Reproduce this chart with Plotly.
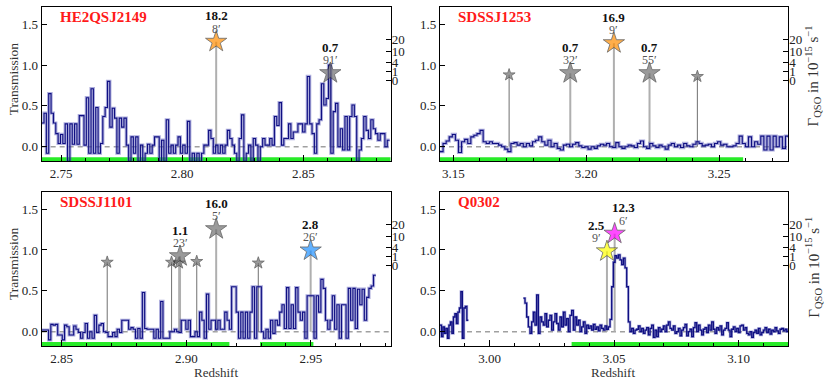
import numpy as np
import plotly.graph_objects as go

# ---- transmission spectra: step value per redshift bin ----
he2_z0, he2_dz = 2.742, 0.00097
he2_trans = [
    0.29, 0.41, -0.08, 0.65, 0.41, 0.29, 0.16, 0.04, 0.15, 0.04,
    0.28, -0.18, 0.28, 0.03, 0.28, 0.03, 0.38, 0.38, 0.02, 0.60,
    -0.08, 0.71, -0.08, 0.48, -0.08, 0.04, 0.37, 0.48, 0.80, 0.24,
    0.47, 0.35, -0.08, 0.35, 0.24, 0.35, 0.02, -0.18, 0.12, -0.08,
    0.12, -0.18, 0.02, -0.18, -0.08, 0.03, -0.08, 0.02, 0.12, 0.12,
    -0.18, 0.08, -0.18, 0.33, -0.08, 0.02, -0.08, 0.02, 0.12, -0.08,
    0.02, -0.08, 0.31, -0.18, -0.08, -0.18, -0.08, -0.18, -0.08, 0.02,
    0.02, 0.20, 0.10, -0.08, 0.02, -0.08,
    0.02, -0.08, 0.02, 0.20, 0.10, 0.02, -0.08, -0.18, 0.10, 0.39,
    -0.18, -0.08, 0.02, -0.18, 0.10, 0.02, -0.18, 0.00, 0.10, 0.02,
    0.02, 0.10, 0.02, 0.37, 0.26, 0.54, 0.02, 0.10, 0.10, 0.28,
    0.10, 0.18, 0.18, 0.28, 0.28, 0.18, 0.28, 0.86, 0.28, 0.16,
    -0.08, 0.28, 0.33, 0.77, 0.51, 0.59, 1.00, -0.08, 0.43, 0.53,
    0.00, 0.22, -0.04, 0.37, -0.04, 0.37, 0.51, 0.37, -0.18, -0.04,
    0.10, 0.37, 0.20, 0.10, 0.33, 0.22, 0.16, 0.08, 0.16, 0.16,
    0.00, 0.08,
]

s1253_z0, s1253_dz = 3.145, 0.00116
s1253_trans = [
    -0.06, 0.04, 0.07, 0.12, 0.15, 0.08, -0.07, 0.06, 0.09, 0.04,
    0.12, 0.14, 0.16, 0.20, 0.06, 0.04, 0.06, 0.04, 0.04, 0.02,
    0.00, -0.03, -0.06, 0.04, 0.05, 0.02, 0.04, 0.00, 0.04, 0.01,
    0.06, 0.08, 0.12, 0.06, 0.02, 0.08, 0.00, 0.04, -0.02, -0.04,
    0.02, 0.03, 0.00, 0.03, 0.05, 0.01, -0.01, 0.00, -0.03, 0.00,
    -0.02, 0.01, 0.03, 0.02, 0.04, 0.00, -0.01, 0.05, 0.00, -0.02,
    0.00, 0.02, 0.01, -0.01, 0.04, 0.07, 0.00, -0.02, 0.04, 0.01,
    -0.01, 0.02, 0.00, -0.03, 0.02, 0.04, 0.00, 0.02, -0.01, 0.04,
    0.01, 0.00, 0.03, 0.06, 0.04, 0.01, 0.02, 0.03, 0.00, 0.04,
    0.06, 0.02, 0.03, 0.00, 0.00, 0.01, 0.04, 0.13, 0.04, 0.00,
    0.12, 0.00, 0.06, 0.03, 0.13, -0.04, 0.13, -0.04, 0.13, 0.00,
    0.12, -0.02, 0.13,
]

s1101_z0, s1101_dz = 2.842, 0.000918
s1101_trans = [
    0.02, 0.02, 0.02, -0.10, 0.09, 0.08, 0.09, -0.04, -0.04, -0.10,
    0.08, 0.06, -0.04, -0.04, 0.07, 0.03, -0.01, -0.08, -0.01, 0.10,
    -0.08, 0.00, -0.08, 0.20, -0.01, 0.08, 0.10, 0.00, -0.01, -0.06,
    -0.06, -0.01, -0.06, 0.03, -0.01, 0.14, 0.14, 0.14, 0.03, 0.05,
    0.03, -0.08, 0.04, -0.08, 0.48, 0.04, 0.03, 0.03, 0.03, -0.08,
    0.03, -0.08, 0.37, -0.08, -0.08, -0.08, 0.00, 0.00, 0.03, 0.00,
    -0.01, 0.14, 0.14, 0.03, 0.14, -0.06, -0.06, 0.00, -0.06, 0.24,
    0.14, -0.08, 0.46, 0.03, 0.14, 0.14, 0.03,
    0.14, 0.03, 0.03, 0.24, 0.14, 0.03, 0.55, 0.55, 0.24, -0.08,
    0.24, -0.08, 0.24, -0.08, 0.24, 0.55, -0.08, 0.55, 0.55, 0.00,
    -0.08, 0.03, -0.08, 0.14, -0.02, 0.14, 0.08, 0.24, 0.33, 0.04,
    0.54, 0.04, 0.33, 0.04, 0.54, 0.24, 0.14, 0.24, -0.08, 0.44,
    0.44, 0.44, -0.08, 0.44, 0.24, 0.64, 0.53, 0.14, 0.03, 0.14,
    0.44, 0.03, 0.33, -0.08, 0.33, 0.33, -0.08, 0.53, 0.14, 0.53,
    0.04, 0.52, 0.33, 0.52, 0.14, 0.42, 0.53, 0.56, 0.69,
]

# Q0302 has a gap in coverage, so two pieces
q0302_z0a, q0302_dza = 2.980, 0.0006
q0302_trans_a = [
    0.08, -0.06, 0.06, -0.02, 0.04, -0.08, 0.08, 0.12, -0.02, 0.18,
    0.22, 0.10, 0.24, 0.29, 0.49, -0.08, 0.29, 0.31, 0.14,
]
q0302_z0b, q0302_dzb = 3.0135, 0.00067
q0302_trans_b = [
    0.41, 0.35, 0.18, 0.06, -0.02, 0.12, 0.24, 0.08, 0.45, -0.02,
    0.18, 0.12, 0.08, 0.22, 0.06, 0.14, 0.20, 0.02, 0.12, 0.22,
    0.10, 0.02, 0.18, 0.06, 0.24, 0.08, 0.16, 0.00, 0.20, 0.26,
    0.02, 0.18, 0.08, 0.14, 0.00, 0.06, 0.12, -0.02, 0.08, 0.04,
    0.07, 0.02, 0.09, 0.03, 0.06, 0.01, 0.08, 0.04, 0.02, 0.07,
    0.03, 0.06,
    0.15, 0.55, 0.85, 0.93, 0.90, 0.94, 0.88, 0.82, 0.90, 0.78,
    0.55, 0.12,
    0.00, 0.04, -0.02, 0.02, 0.03, 0.07, 0.00, 0.04, -0.02, 0.02,
    0.05, -0.04, 0.04, 0.08, -0.07, 0.02, -0.06, 0.05, 0.00, 0.03,
    0.07, 0.00, 0.08, 0.12, 0.04, 0.02, 0.07, -0.02, 0.00, 0.04,
    -0.05, 0.02, 0.05, 0.09, -0.05, 0.00, 0.03, -0.06, 0.05, 0.11,
    0.00, 0.08, 0.02, -0.04, 0.03, 0.05, -0.01, 0.08, 0.02, 0.12,
    0.03, -0.02, 0.05, 0.02, 0.07, -0.04, 0.02, 0.04, 0.11, 0.02,
    -0.06, 0.03, 0.06, 0.00, 0.04, -0.01, 0.07, 0.08, 0.02, 0.05,
    -0.02, -0.04, 0.00, -0.07, -0.01, 0.02, -0.02, 0.04, -0.04, -0.01,
    0.02, 0.05, -0.01, 0.03, -0.03, 0.02, 0.00, 0.05, 0.01, -0.02,
    0.03, 0.04, 0.01, 0.03, 0.00, 0.02,
]

# ---- foreground quasars: redshift, Gamma_qso, separation ('' = unlabelled) ----
he2_fg_z = [2.814, 2.8611]
he2_fg_gamma = [18.2, 0.7]
he2_fg_sep = ["8′", "91′"]
he2_fg_color = ["#ff8c00", "#707070"]

s1253_fg_z = [3.171, 3.194, 3.2104, 3.2238, 3.2418]
s1253_fg_gamma = [0.42, 0.7, 16.9, 0.7, 0.22]
s1253_fg_sep = ["", "32′", "9′", "55′", ""]
s1253_fg_color = ["#707070", "#707070", "#ff8c00", "#707070", "#707070"]

s1101_fg_z = [2.8683, 2.8941, 2.8971, 2.8975, 2.9042, 2.912, 2.9289, 2.9499]
s1101_fg_gamma = [0.15, 0.15, 0.09, 1.1, 0.22, 16.0, 0.09, 2.8]
s1101_fg_sep = ["", "", "", "23′", "", "5′", "", "26′"]
s1101_fg_color = ["#707070"] * 7 + ["#1e90ff"]

q0302_fg_z = [3.0471, 3.0502]
q0302_fg_gamma = [2.5, 12.3]
q0302_fg_sep = ["9′", "6′"]
q0302_fg_color = ["#ffff00", "#ff00ff"]

# proximity-zone coverage (green bars)
he2_green = [(2.742, 2.886)]
s1253_green = [(3.145, 3.259)]
s1101_green = [(2.842, 2.9173), (2.9296, 2.951)]
q0302_green = [(3.0329, 3.12)]

gamma_ticks = [0, 1, 4, 10, 20]


def gamma_to_t(g):
    # right hand axis: sqrt scale placed above the spectrum
    return 0.807 + 0.112 * np.sqrt(np.asarray(g, dtype=float))


FONT = "Liberation Serif"
YR = [-0.175, 1.71]

panels = [
    dict(name="HE2QSJ2149", xr=[2.742, 2.886],
         spec=[(he2_z0, he2_dz, he2_trans)],
         fz=he2_fg_z, fg=he2_fg_gamma, fs=he2_fg_sep, fc=he2_fg_color,
         shift=[0, 0], green=he2_green),
    dict(name="SDSSJ1253", xr=[3.145, 3.276],
         spec=[(s1253_z0, s1253_dz, s1253_trans)],
         fz=s1253_fg_z, fg=s1253_fg_gamma, fs=s1253_fg_sep, fc=s1253_fg_color,
         shift=[0] * 5, green=s1253_green),
    dict(name="SDSSJ1101", xr=[2.842, 2.982],
         spec=[(s1101_z0, s1101_dz, s1101_trans)],
         fz=s1101_fg_z, fg=s1101_fg_gamma, fs=s1101_fg_sep, fc=s1101_fg_color,
         shift=[0] * 8, green=s1101_green),
    dict(name="Q0302", xr=[2.98, 3.12],
         spec=[(q0302_z0a, q0302_dza, q0302_trans_a),
               (q0302_z0b, q0302_dzb, q0302_trans_b)],
         fz=q0302_fg_z, fg=q0302_fg_gamma, fs=q0302_fg_sep, fc=q0302_fg_color,
         shift=[-10, 9], green=q0302_green),
]

xdom = [[0.0502, 0.4707], [0.5301, 0.9498]]
ydom = [[0.5774, 0.9816], [0.0919, 0.4961]]

fig = go.Figure()
annotations = []

for i, p in enumerate(panels):
    n = i + 1
    sfx = "" if n == 1 else str(n)
    xa, ya = "x" + sfx, "y" + sfx
    yr_id = "y%d" % (n + 4)
    xm_id = "x%d" % (n + 4)

    # dashed zero level
    fig.add_trace(go.Scatter(x=p["xr"], y=[0, 0], xaxis=xa, yaxis=ya, mode="lines",
                             line=dict(color="rgb(160,160,160)", width=1.5, dash="5px,4px"),
                             hoverinfo="skip"))

    # stems from the stars down to zero
    gz = np.array(p["fz"])
    gt = gamma_to_t(p["fg"])
    big = np.array([s != "" for s in p["fs"]])
    for mask, col, w in [(~big, "rgb(125,125,125)", 1.1), (big, "rgb(175,175,175)", 2)]:
        sx, sy = [], []
        for z, t in zip(gz[mask], gt[mask]):
            sx += [z, z, None]
            sy += [0, t, None]
        if sx:
            fig.add_trace(go.Scatter(x=sx, y=sy, xaxis=xa, yaxis=ya, mode="lines",
                                     line=dict(color=col, width=w), hoverinfo="skip"))

    # green coverage bars
    for a, b in p["green"]:
        fig.add_trace(go.Scatter(x=[a, b], y=[-0.152, -0.152], xaxis=xa, yaxis=ya,
                                 mode="lines", line=dict(color="rgb(40,235,40)", width=4),
                                 hoverinfo="skip"))

    # spectrum as step line, halo underneath
    for z0, dz, vals in p["spec"]:
        edges = z0 + dz * np.arange(len(vals) + 1)
        yy = list(vals) + [vals[-1]]
        fine = dz < 0.0008
        fig.add_trace(go.Scatter(x=edges, y=yy, xaxis=xa, yaxis=ya, mode="lines",
                                 line=dict(shape="hv", color="rgba(90,90,185,0.5)",
                                           width=2.6 if fine else 3.2),
                                 hoverinfo="skip"))
        fig.add_trace(go.Scatter(x=edges, y=yy, xaxis=xa, yaxis=ya, mode="lines",
                                 line=dict(shape="hv", color="rgb(15,15,130)",
                                           width=1.3 if fine else 1.1),
                                 hoverinfo="skip"))

    # stars
    sizes = [16 if b else 9 for b in big]
    fig.add_trace(go.Scatter(x=gz, y=gt, xaxis=xa, yaxis=ya, mode="markers",
                             marker=dict(symbol="star", size=sizes, color=p["fc"],
                                         line=dict(color="rgb(40,40,40)", width=0.8)),
                             hoverinfo="skip"))

    # star labels
    for z, t, g, s, sh in zip(p["fz"], gt, p["fg"], p["fs"], p["shift"]):
        if not s:
            continue
        annotations.append(dict(x=z, y=t, xref=xa, yref=ya, text="<b>%.1f</b>" % g,
                                showarrow=False, yshift=26, xshift=sh,
                                xanchor="center", yanchor="middle",
                                font=dict(family=FONT, size=13, color="#111")))
        annotations.append(dict(x=z, y=t, xref=xa, yref=ya, text=s,
                                showarrow=False, yshift=13, xshift=sh,
                                xanchor="center", yanchor="middle",
                                font=dict(family=FONT, size=12, color="#555")))

    # quasar name
    annotations.append(dict(x=0.047, y=0.935, xref=xa + " domain", yref=ya + " domain",
                            text="<b>%s</b>" % p["name"], showarrow=False,
                            xanchor="left", yanchor="middle",
                            font=dict(family=FONT, size=15, color="#ff1a1a")))

    col, row = i % 2, i // 2
    fig.update_layout(**{
        "xaxis" + sfx: dict(domain=xdom[col], anchor=ya, range=p["xr"], automargin=False,
                            showline=True, mirror=True, linecolor="black", linewidth=1.3,
                            ticks="inside", ticklen=6, tickcolor="black", dtick=0.05,
                            tick0=2.75, tickformat=".2f", showgrid=False, zeroline=False,
                            tickfont=dict(family=FONT, size=13, color="#222")),
        # minor redshift ticks on an overlaid axis
        "xaxis%d" % (n + 4): dict(overlaying=xa, anchor=ya, side="bottom", range=p["xr"],
                                  automargin=False, dtick=0.01, tick0=0,
                                  ticks="inside", ticklen=3, tickcolor="black",
                                  showticklabels=False, showline=False, showgrid=False,
                                  zeroline=False),
        "yaxis" + sfx: dict(domain=ydom[row], anchor=xa, range=YR, automargin=False,
                            showline=True, mirror=True, linecolor="black", linewidth=1.3,
                            ticks="inside", ticklen=5, tickcolor="black",
                            tickvals=[0, 0.5, 1, 1.5],
                            ticktext=["0.0", "0.5", "1.0", "1.5"],
                            showgrid=False, zeroline=False,
                            tickfont=dict(family=FONT, size=13, color="#222")),
        "yaxis%d" % (n + 4): dict(overlaying=ya, anchor=xa, side="right", range=YR,
                                  automargin=False,
                                  tickvals=list(gamma_to_t(gamma_ticks)),
                                  ticktext=[str(v) for v in gamma_ticks],
                                  ticks="inside", ticklen=5, tickcolor="black",
                                  showline=False, showgrid=False, zeroline=False,
                                  tickfont=dict(family=FONT, size=13, color="#222")),
    })
    # empty traces so the extra axes get drawn
    fig.add_trace(go.Scatter(x=[p["xr"][0]], y=[None], xaxis=xa, yaxis=yr_id,
                             mode="markers", hoverinfo="skip"))
    fig.add_trace(go.Scatter(x=[None], y=[0], xaxis=xm_id, yaxis=ya,
                             mode="markers", hoverinfo="skip"))

# axis titles
for yy in [0.792, 0.307]:
    annotations.append(dict(x=0.0157, y=yy, xref="paper", yref="paper", text="Transmission",
                            textangle=-90, showarrow=False, xanchor="center", yanchor="middle",
                            font=dict(family=FONT, size=13.5, color="#333")))
for xx in [0.26, 0.739]:
    annotations.append(dict(x=xx, y=0.021, xref="paper", yref="paper", text="Redshift",
                            showarrow=False, xanchor="center", yanchor="middle",
                            font=dict(family=FONT, size=13, color="#333")))
for yy in [0.802, 0.30]:
    annotations.append(dict(x=0.9795, y=yy, xref="paper", yref="paper",
                            text="Γ<sub>QSO</sub> in 10<sup>−15</sup> s<sup>−1</sup>",
                            textangle=-90, showarrow=False, xanchor="center", yanchor="middle",
                            font=dict(family=FONT, size=15, color="#333")))

fig.update_layout(width=830, height=381, margin=dict(l=0, r=0, t=0, b=0),
                  plot_bgcolor="white", paper_bgcolor="white", showlegend=False,
                  annotations=annotations)

# the page body has a default 8px margin; drop it so the figure sits at the corner
fig.write_html("out.html", config={"displayModeBar": False},
               post_script="document.body.style.margin='0px';")
